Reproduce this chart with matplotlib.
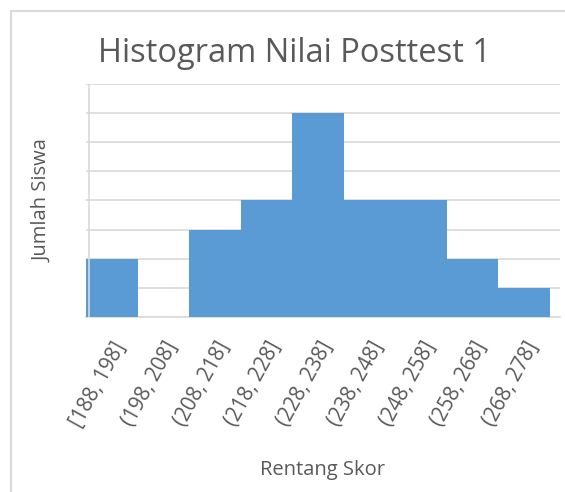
import matplotlib
matplotlib.use("Agg")
import matplotlib.pyplot as plt

categories = ["[188, 198]", "(198, 208]", "(208, 218]", "(218, 228]", "(228, 238]",
              "(238, 248]", "(248, 258]", "(258, 268]", "(268, 278]"]
counts = [2, 0, 3, 4, 7, 4, 4, 2, 1]

W, H = 565, 492
fig = plt.figure(figsize=(W/100, H/100), dpi=100)
plt.rcParams['font.family'] = ['Open Sans', 'DejaVu Sans']
grey = '#595959'
gridc = '#d9d9d9'

ax = fig.add_axes([86/W, 1-317/H, (560-86)/W, (317-84)/H])
x = list(range(len(categories)))
ax.bar(x, counts, width=1.0, color='#5b9bd5', zorder=3, edgecolor='none')
ax.set_xlim(-0.5, 8.5 + 10/51.6)
ax.set_ylim(0, 8)
ax.set_yticks(range(0, 9))
ax.yaxis.grid(True, color=gridc, linewidth=1.2, zorder=0)
ax.set_yticklabels([])
ax.tick_params(axis='y', length=0)
ax.tick_params(axis='x', length=0, pad=15)
for s in ['top', 'right', 'left']:
    ax.spines[s].set_visible(False)
ax.spines['bottom'].set_color(gridc)
ax.spines['bottom'].set_linewidth(1.2)
ax.plot([-0.5 + 3/51.6] * 2, [0, 8], color=gridc, linewidth=1.2, zorder=4)
ax.set_xticks(x)
ax.set_xticklabels(categories, rotation=61, ha='right', rotation_mode='anchor',
                   fontsize=14.8, color=grey)

fig.text(295/W, 1-62/H, "Histogram Nilai Posttest 1", ha='center', va='baseline',
         fontsize=23.5, color=grey)
fig.text(42/W, 1-201/H, "Jumlah Siswa", ha='center', va='center', rotation=90,
         fontsize=14.5, color=grey)
fig.text(323/W, 1-470/H, "Rentang Skor", ha='center', va='center',
         fontsize=14.5, color=grey)

# outer chart border (left and top)
fig.add_artist(plt.Line2D([11/W, 11/W], [0, 1-11/H], color=gridc, linewidth=1.5,
                          transform=fig.transFigure))
fig.add_artist(plt.Line2D([11/W, 1], [1-11/H, 1-11/H], color=gridc, linewidth=1.5,
                          transform=fig.transFigure))

fig.savefig("out.png", dpi=100)
